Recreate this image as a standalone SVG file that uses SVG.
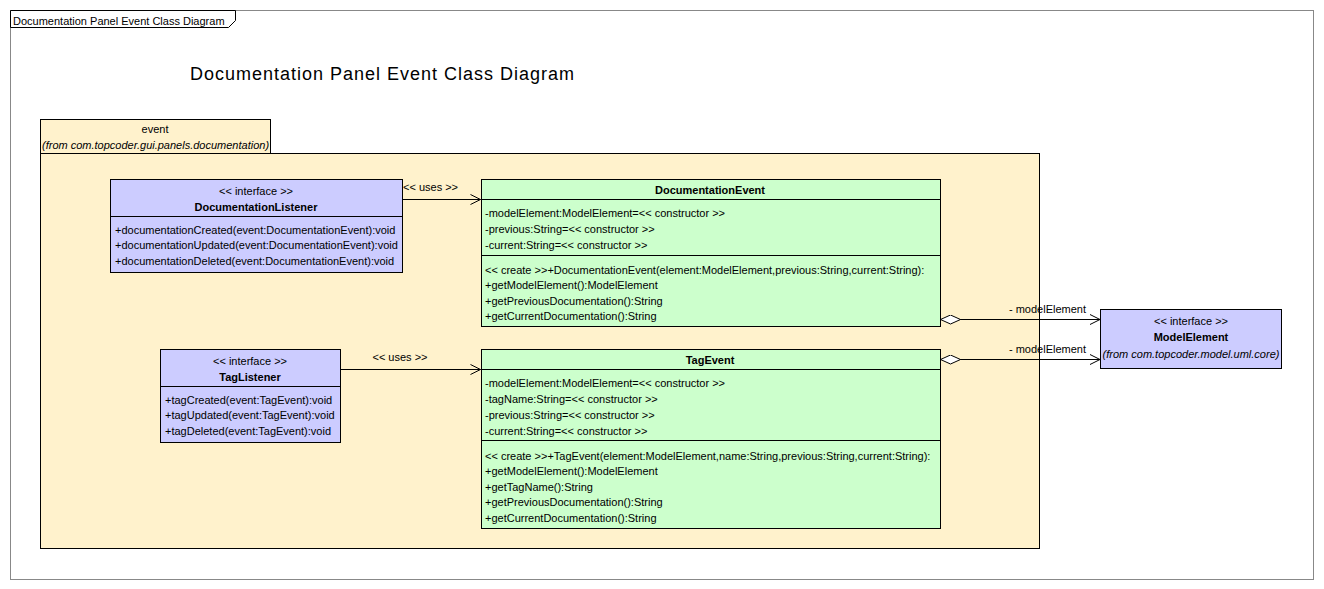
<svg xmlns="http://www.w3.org/2000/svg" width="1324" height="589" viewBox="0 0 1324 589">
<style>
text{font-family:"Liberation Sans",Arial,sans-serif;font-size:11px;fill:#000}
.b{font-weight:bold}
.i{font-style:italic}
.c{text-anchor:middle}
.e{text-anchor:end}
.box{stroke:#000;stroke-width:1}
.if{fill:#CCCCFF}
.cl{fill:#CCFFCC}
.pk{fill:#FFF2CC;stroke:#000;stroke-width:1}
.ln{stroke:#000;stroke-width:1;fill:none}
</style>
<defs>
<marker id="open" viewBox="0 0 12 12" refX="11" refY="6" markerWidth="12" markerHeight="12" markerUnits="userSpaceOnUse" orient="auto">
<path d="M1,1 L11,6 L1,11" fill="none" stroke="#000" stroke-width="1"/>
</marker>
<marker id="diam" viewBox="0 0 22 10" refX="1" refY="5" markerWidth="22" markerHeight="10" markerUnits="userSpaceOnUse" orient="auto">
<path d="M1,5 L11,0.5 L21,5 L11,9.5 Z" fill="#fff" stroke="#000" stroke-width="1"/>
</marker>
</defs>
<rect width="1324" height="589" fill="#fff"/>
<g id="frame">
<rect x="10.5" y="10.5" width="1303" height="569" fill="none" stroke="#888" stroke-width="1"/>
<path d="M10.5,10.5 H235.5 V20.5 L228.5,27.5 H10.5 Z" fill="#fff" stroke="#000" stroke-width="1"/>
<text x="13" y="24.5">Documentation Panel Event Class Diagram</text>
<text x="190" y="80" style="font-size:18px" textLength="384" lengthAdjust="spacing">Documentation Panel Event Class Diagram</text>
</g>
<g id="package-event">
<rect class="pk" x="40.5" y="119.5" width="230" height="34"/>
<rect class="pk" x="40.5" y="153.5" width="999" height="395"/>
<text class="c" x="155" y="133">event</text>
<text class="i" x="42" y="149">(from com.topcoder.gui.panels.documentation)</text>
</g>
<g id="connectors">
<line class="ln" x1="402.5" y1="199.5" x2="480.5" y2="199.5" marker-end="url(#open)"/>
<text x="403" y="191">&lt;&lt; uses &gt;&gt;</text>
<line class="ln" x1="340.5" y1="369.5" x2="480.5" y2="369.5" marker-end="url(#open)"/>
<text class="c" x="400" y="361">&lt;&lt; uses &gt;&gt;</text>
<line class="ln" x1="940.5" y1="319.5" x2="1100" y2="319.5" marker-start="url(#diam)" marker-end="url(#open)"/>
<text class="e" x="1086" y="313">- modelElement</text>
<line class="ln" x1="940.5" y1="359.5" x2="1100" y2="359.5" marker-start="url(#diam)" marker-end="url(#open)"/>
<text class="e" x="1086" y="353">- modelElement</text>
</g>
<g id="DocumentationListener">
<rect class="box if" x="110.5" y="179.5" width="292" height="93"/>
<line class="ln" x1="110.5" y1="216.5" x2="402.5" y2="216.5"/>
<text class="c" x="256" y="195">&lt;&lt; interface &gt;&gt;</text>
<text class="c b" x="256" y="211">DocumentationListener</text>
<text x="115" y="234">+documentationCreated(event:DocumentationEvent):void</text>
<text x="115" y="249">+documentationUpdated(event:DocumentationEvent):void</text>
<text x="115" y="265">+documentationDeleted(event:DocumentationEvent):void</text>
</g>
<g id="DocumentationEvent">
<rect class="box cl" x="481.5" y="179.5" width="459" height="147"/>
<line class="ln" x1="481.5" y1="199.5" x2="940.5" y2="199.5"/>
<line class="ln" x1="481.5" y1="255.5" x2="940.5" y2="255.5"/>
<text class="c b" x="710" y="194">DocumentationEvent</text>
<text x="485" y="217">-modelElement:ModelElement=&lt;&lt; constructor &gt;&gt;</text>
<text x="485" y="233">-previous:String=&lt;&lt; constructor &gt;&gt;</text>
<text x="485" y="249">-current:String=&lt;&lt; constructor &gt;&gt;</text>
<text x="485" y="274">&lt;&lt; create &gt;&gt;+DocumentationEvent(element:ModelElement,previous:String,current:String):</text>
<text x="485" y="289">+getModelElement():ModelElement</text>
<text x="485" y="304.5">+getPreviousDocumentation():String</text>
<text x="485" y="320">+getCurrentDocumentation():String</text>
</g>
<g id="TagListener">
<rect class="box if" x="160.5" y="349.5" width="180" height="93"/>
<line class="ln" x1="160.5" y1="386.5" x2="340.5" y2="386.5"/>
<text class="c" x="250" y="365">&lt;&lt; interface &gt;&gt;</text>
<text class="c b" x="250" y="381">TagListener</text>
<text x="165" y="404">+tagCreated(event:TagEvent):void</text>
<text x="165" y="419">+tagUpdated(event:TagEvent):void</text>
<text x="165" y="435">+tagDeleted(event:TagEvent):void</text>
</g>
<g id="TagEvent">
<rect class="box cl" x="481.5" y="349.5" width="459" height="179"/>
<line class="ln" x1="481.5" y1="369.5" x2="940.5" y2="369.5"/>
<line class="ln" x1="481.5" y1="440.5" x2="940.5" y2="440.5"/>
<text class="c b" x="710" y="364">TagEvent</text>
<text x="485" y="387">-modelElement:ModelElement=&lt;&lt; constructor &gt;&gt;</text>
<text x="485" y="403">-tagName:String=&lt;&lt; constructor &gt;&gt;</text>
<text x="485" y="419">-previous:String=&lt;&lt; constructor &gt;&gt;</text>
<text x="485" y="435">-current:String=&lt;&lt; constructor &gt;&gt;</text>
<text x="485" y="460">&lt;&lt; create &gt;&gt;+TagEvent(element:ModelElement,name:String,previous:String,current:String):</text>
<text x="485" y="475">+getModelElement():ModelElement</text>
<text x="485" y="491">+getTagName():String</text>
<text x="485" y="506">+getPreviousDocumentation():String</text>
<text x="485" y="522">+getCurrentDocumentation():String</text>
</g>
<g id="ModelElement">
<rect class="box if" x="1100.5" y="309.5" width="181" height="59"/>
<text class="c" x="1191" y="325">&lt;&lt; interface &gt;&gt;</text>
<text class="c b" x="1191" y="341">ModelElement</text>
<text class="c i" x="1191" y="358">(from com.topcoder.model.uml.core)</text>
</g>
</svg>
